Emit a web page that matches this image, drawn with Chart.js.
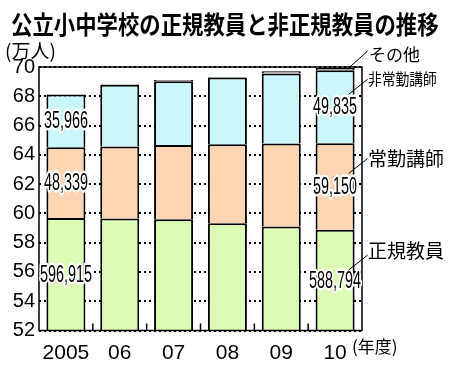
<!DOCTYPE html>
<html>
<head>
<meta charset="utf-8">
<script src="https://cdn.jsdelivr.net/npm/chart.js@4.4.1/dist/chart.umd.min.js"></script>
<style>
body{margin:0;background:#fff;}
#wrap{position:relative;width:450px;height:372px;overflow:hidden;font-family:"Noto Sans CJK JP",sans-serif;}
canvas{position:absolute;left:0;top:0;}
.t{position:absolute;white-space:nowrap;line-height:1;color:#000;transform-origin:0 0;}
</style>
</head>
<body>
<div id="wrap">
<canvas id="myChart" width="450" height="372"></canvas>
<div class="t" style="left:11px;top:11px;font-size:25px;font-weight:700;transform:scaleX(0.855)">公立小中学校の正規教員と非正規教員の推移</div>
<div class="t" style="left:5px;top:40px;font-size:19px;">(万人)</div>
<div class="t" style="left:352px;top:337px;font-size:17px;">(年度)</div>
<div class="t" style="left:369px;top:45px;font-size:17px;">その他</div>
<div class="t" style="left:368px;top:70px;font-size:16px;transform:scaleX(0.86)">非常勤講師</div>
<div class="t" style="left:368px;top:148px;font-size:19px;">常勤講師</div>
<div class="t" style="left:368px;top:240px;font-size:19px;">正規教員</div>
</div>
<script>
// values in 万人
const years = ["2005", "06", "07", "08", "09", "10"];
const regular = [59.69, 59.65, 59.60, 59.33, 59.10, 58.88];
const fullTime = [4.83, 4.92, 5.08, 5.39, 5.67, 5.915];
const partTime = [3.60, 4.21, 4.34, 4.57, 4.79, 4.98];
const other = [0.02, 0.05, 0.10, 0.03, 0.15, 0.15];

const regularLabels = ["596,915", "", "", "", "", "588,794"];
const fullTimeLabels = ["48,339", "", "", "", "", "59,150"];
const partTimeLabels = ["35,966", "", "", "", "", "49,835"];

const yTicks = [52, 54, 56, 58, 60, 62, 64, 66, 68, 70];

const segBorder = (top) => ({ left: 2, right: 2, top: top, bottom: 0 });

const framePlugin = {
    id: 'frame',
    afterDatasetsDraw(chart) {
        const ctx = chart.ctx;
        const a = chart.chartArea;
        const x = chart.scales.x;
        ctx.save();
        ctx.strokeStyle = '#000';
        ctx.lineWidth = 1.5;
        ctx.strokeRect(a.left, a.top, a.right - a.left, a.bottom - a.top);
        // small inward ticks between the categories
        for (let i = 1; i < years.length; i++) {
            const xb = (x.getPixelForValue(i - 1) + x.getPixelForValue(i)) / 2;
            ctx.beginPath();
            ctx.moveTo(xb, a.bottom);
            ctx.lineTo(xb, a.bottom - 7);
            ctx.stroke();
        }
        ctx.restore();
    }
};

const valuePlugin = {
    id: 'values',
    afterDatasetsDraw(chart) {
        const ctx = chart.ctx;
        const a = chart.chartArea;
        const sets = [regularLabels, fullTimeLabels, partTimeLabels];
        ctx.save();
        ctx.font = '24px "Liberation Sans", sans-serif';
        ctx.textAlign = 'center';
        ctx.textBaseline = 'middle';
        ctx.lineJoin = 'round';
        sets.forEach((labels, di) => {
            const meta = chart.getDatasetMeta(di);
            labels.forEach((txt, i) => {
                if (!txt) return;
                const bar = meta.data[i];
                const base = Math.min(bar.base, a.bottom);
                const cy = (bar.y + base) / 2;
                ctx.save();
                ctx.translate(bar.x, cy);
                ctx.scale(0.6, 1);
                ctx.strokeStyle = '#fff';
                ctx.lineWidth = 5;
                ctx.strokeText(txt, 0, 1);
                ctx.fillStyle = '#000';
                ctx.fillText(txt, 0, 1);
                ctx.restore();
            });
        });

        // leader lines from the last bar to the labels on the right
        const last = years.length - 1;
        ctx.strokeStyle = '#000';
        ctx.lineWidth = 1;
        [0, 1, 2, 3].forEach(di => {
            const bar = chart.getDatasetMeta(di).data[last];
            const base = Math.min(bar.base, a.bottom);
            const sx = bar.x + bar.width / 2 - 6;
            let sy;
            if (di === 3) sy = bar.y;
            else if (di === 2) sy = bar.y + (base - bar.y) * 0.33;
            else if (di === 1) sy = bar.y + (base - bar.y) * 0.35;
            else sy = bar.y + (base - bar.y) * 0.4;
            ctx.beginPath();
            ctx.moveTo(sx, sy);
            ctx.lineTo(sx + 19, sy - (di === 3 ? 17 : 15));
            ctx.stroke();
        });
        ctx.restore();
    }
};

const myChartRef = document.getElementById('myChart').getContext('2d');
new Chart(myChartRef, {
    type: 'bar',
    data: {
        labels: years,
        datasets: [
            { label: '正規教員', data: regular, backgroundColor: '#dcfbb4', borderColor: '#000', borderWidth: segBorder(2), borderSkipped: false },
            { label: '常勤講師', data: fullTime, backgroundColor: '#fcd6b2', borderColor: '#000', borderWidth: segBorder(2), borderSkipped: false },
            { label: '非常勤講師', data: partTime, backgroundColor: '#c9f7fb', borderColor: '#000', borderWidth: segBorder(2), borderSkipped: false },
            { label: 'その他', data: other, backgroundColor: '#aaa', borderColor: '#000', borderWidth: segBorder(1.5), borderSkipped: false },
        ]
    },
    options: {
        responsive: false,
        animation: false,
        layout: { padding: { left: 0, right: 88, top: 67, bottom: 0 } },
        plugins: { legend: { display: false }, tooltip: { enabled: false }, title: { display: false } },
        datasets: { bar: { categoryPercentage: 1, barPercentage: 0.725 } },
        scales: {
            x: {
                stacked: true,
                grid: { display: false },
                border: { display: false },
                ticks: { color: '#000', font: { family: 'Liberation Sans', size: 21 }, padding: 2, maxRotation: 0 },
                afterFit: s => { s.height = 41.5; }
            },
            y: {
                stacked: true,
                min: 52,
                max: 70,
                afterBuildTicks: s => { s.ticks = yTicks.map(v => ({ value: v })); },
                grid: { color: '#000', lineWidth: 2, drawTicks: false },
                border: { display: false, dash: [2, 3] },
                ticks: { color: '#000', font: { family: 'Liberation Sans', size: 20 }, padding: 4 },
                afterFit: s => { s.width = 39; }
            }
        }
    },
    plugins: [framePlugin, valuePlugin]
});
</script>
</body>
</html>
